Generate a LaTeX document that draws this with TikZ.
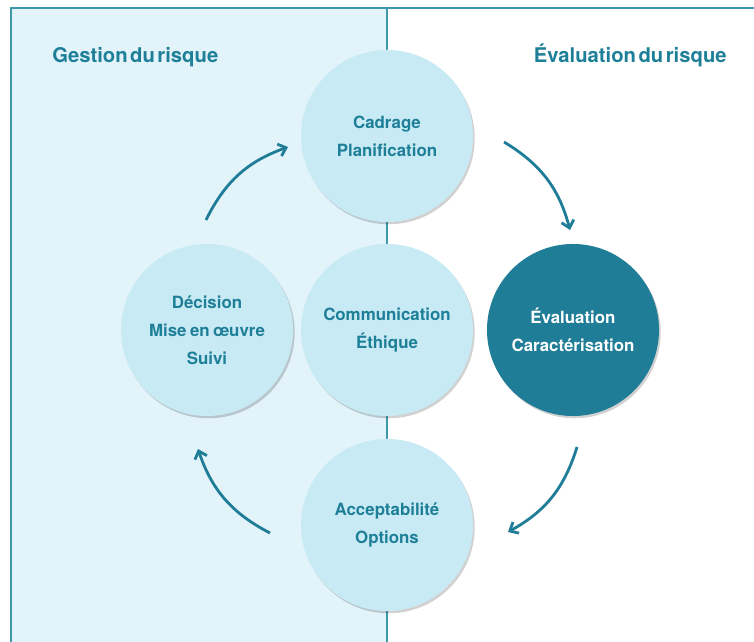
\documentclass[tikz,border=0pt]{standalone}
\usepackage{fontspec}
\setmainfont{TeX Gyre Heros}[WordSpace=0.75]
\newfontfamily\titrefont{TeX Gyre Heros}[WordSpace=0.45]
\usetikzlibrary{arrows.meta,shadows}
\definecolor{bleuFonce}{HTML}{1F7D97}
\definecolor{bleuTexte}{HTML}{1E7F98}
\definecolor{bleuClair}{HTML}{C8EAF4}
\definecolor{bleuFond}{HTML}{E2F4FA}
\definecolor{bleuCadre}{HTML}{3D98AA}

\begin{document}
\begin{tikzpicture}[x=0.025cm, y=-0.025cm,
	etape/.style={circle, fill=bleuClair, minimum size=4.3cm, inner sep=0pt,
		align=center, text=bleuTexte, font=\bfseries\fontsize{12}{19.8}\selectfont,
		drop shadow={shadow xshift=1.2pt, shadow yshift=-1.6pt, opacity=0.18, fill=black}},
	titre/.style={text=bleuTexte, font=\titrefont\bfseries\fontsize{14.4}{17}\selectfont, inner sep=0pt},
	fleche/.style={draw=bleuFonce, line width=2pt, -{Straight Barb[length=5pt, width=9pt, line width=2pt]}}]
	\def\xMil{387} %Trennlinie
	\def\yHaut{8}
	
	\useasboundingbox (0,0) rectangle (754,642);
	
	%Fond
	\fill[bleuFond] (11,\yHaut) rectangle (\xMil,642);
	\draw[bleuCadre, line width=1.3pt] (11,642) -- (11,\yHaut) -- (754,\yHaut);
	\draw[bleuCadre, line width=1.3pt] (\xMil,\yHaut) -- (\xMil,642);
	
	%Titres
	\node[titre, anchor=base west] (gestion) at (52,63) {Gestion du risque};
	\node[titre, anchor=base east] (evalTitre) at (727,63) {Évaluation du risque};
	
	%Cercles
	\node[etape] (cadrage) at (\xMil,136) {Cadrage\\Planification};
	\node[etape] (commun) at (\xMil,330) {Communication\\Éthique};
	\node[etape] (accept) at (\xMil,525) {Acceptabilité\\Options};
	\node[etape] (decision) at (207,330) {Décision\\Mise en œuvre\\Suivi};
	\node[etape, fill=bleuFonce, text=white] (evaluation) at (573,330) {Évaluation\\Caractérisation};
	
	%Fleches
	\coordinate (f1a) at (206,220);
	\coordinate (f1b) at (288,147);
	\coordinate (f2a) at (504,142);
	\coordinate (f2b) at (570,230);
	\coordinate (f3a) at (577,447);
	\coordinate (f3b) at (508,532);
	\coordinate (f4a) at (270,533);
	\coordinate (f4b) at (198,449);
	\draw[fleche] (f1a) to[bend left=22] (f1b);
	\draw[fleche] (f2a) to[bend left=22] (f2b);
	\draw[fleche] (f3a) to[bend left=22] (f3b);
	\draw[fleche] (f4a) to[bend left=22] (f4b);
	
\end{tikzpicture}
\end{document}
